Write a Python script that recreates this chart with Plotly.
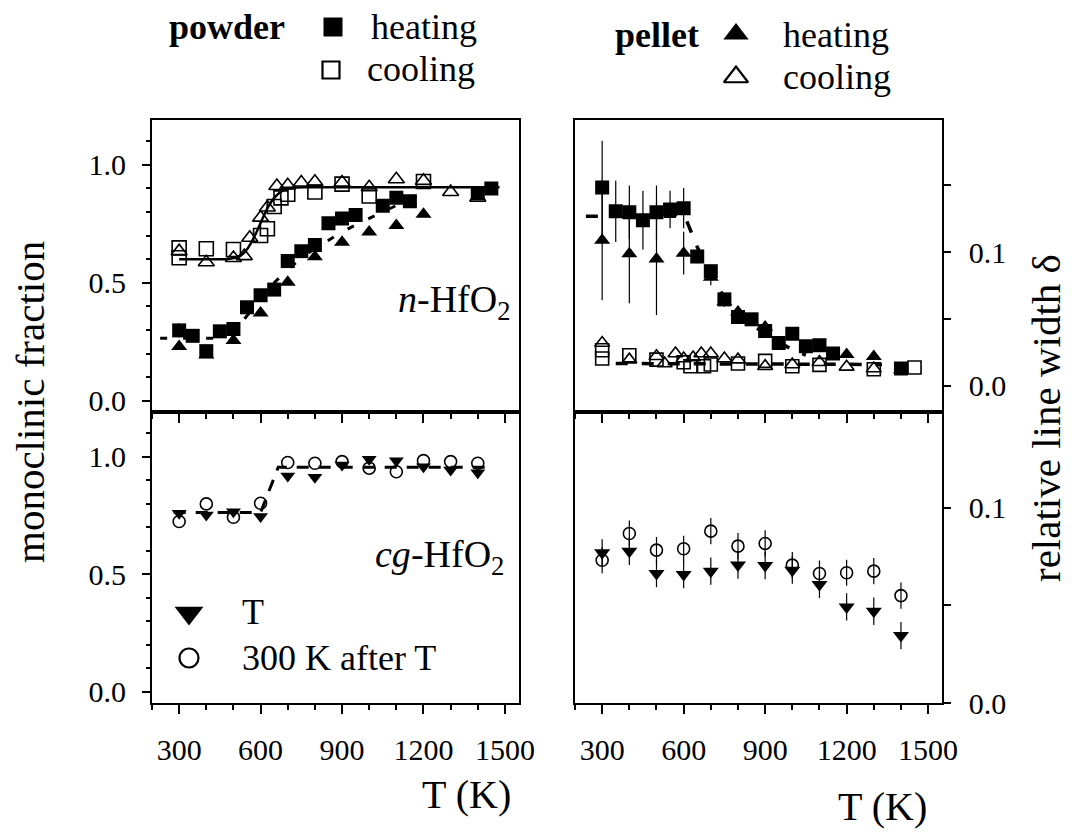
import plotly.graph_objects as go

W, H = 1081, 832
FONT = "Liberation Serif"

# ---------------- top-left: n-HfO2, monoclinic fraction ----------------
tl_pw_heat_T = [300, 350, 400, 450, 500, 550, 600, 650, 700, 750, 800, 850, 900, 950, 1050, 1100, 1150, 1400, 1450]
tl_pw_heat_f = [0.298, 0.275, 0.21, 0.294, 0.304, 0.396, 0.447, 0.471, 0.592, 0.634, 0.66, 0.752, 0.772, 0.787, 0.826, 0.86, 0.846, 0.88, 0.90]
tl_pw_heat_e = [0.03, 0.02, 0.025, 0.02, 0.03, 0.02, 0.02, 0.015, 0.015, 0.015, 0.02, 0.015, 0.015, 0.015, 0.015, 0.015, 0.015, 0.015, 0.015]

tl_pl_heat_T = [300, 400, 500, 600, 700, 800, 900, 1000, 1100, 1200]
tl_pl_heat_f = [0.23, 0.194, 0.255, 0.372, 0.502, 0.61, 0.672, 0.715, 0.743, 0.79]

tl_pw_cool_T = [300, 300, 400, 500, 600, 625, 650, 675, 700, 800, 900, 1000, 1200]
tl_pw_cool_f = [0.648, 0.606, 0.644, 0.641, 0.70, 0.729, 0.823, 0.86, 0.875, 0.885, 0.918, 0.868, 0.929]

tl_pl_cool_T = [300, 400, 500, 540, 560, 600, 625, 660, 700, 750, 800, 900, 1000, 1100, 1200, 1300, 1400]
tl_pl_cool_f = [0.634, 0.587, 0.605, 0.613, 0.691, 0.776, 0.819, 0.91, 0.913, 0.925, 0.928, 0.925, 0.905, 0.939, 0.932, 0.885, 0.861]

tl_fit_cool_T = [300, 480, 510, 530, 550, 570, 590, 610, 630, 650, 670, 690, 720, 760, 1480]
tl_fit_cool_f = [0.600, 0.601, 0.607, 0.618, 0.642, 0.68, 0.727, 0.78, 0.826, 0.86, 0.882, 0.895, 0.903, 0.905, 0.905]

tl_fit_heat_T = [230, 450, 500, 550, 600, 650, 700, 750, 800, 850, 900, 950, 1000, 1050, 1100, 1150, 1200]
tl_fit_heat_f = [0.265, 0.265, 0.29, 0.36, 0.43, 0.50, 0.555, 0.605, 0.645, 0.68, 0.715, 0.745, 0.772, 0.80, 0.826, 0.855, 0.89]

# ---------------- top-right: relative line width ----------------
tr_pw_heat_T = [300, 350, 400, 450, 500, 550, 600, 650, 700, 750, 800, 850, 900, 950, 1000, 1050, 1100, 1150, 1400]
tr_pw_heat_d = [0.1485, 0.1306, 0.130, 0.124, 0.130, 0.132, 0.133, 0.0968, 0.0858, 0.0647, 0.0515, 0.0498, 0.041, 0.032, 0.039, 0.0296, 0.0304, 0.0242, 0.013]
tr_pw_heat_e = [0.035, 0.023, 0.02, 0.022, 0.02, 0.014, 0.015, 0.005, 0.005, 0.003, 0.003, 0.003, 0.003, 0.003, 0.003, 0.003, 0.003, 0.003, 0.003]

tr_pl_heat_T = [300, 400, 500, 600, 700, 750, 800, 900, 1200, 1300, 1400]
tr_pl_heat_d = [0.109, 0.0988, 0.095, 0.0993, 0.0813, 0.063, 0.0552, 0.044, 0.0234, 0.022, 0.012]
tr_pl_heat_e = [0.045, 0.037, 0.042, 0.016, 0.006, 0.004, 0.003, 0.003, 0.002, 0.002, 0.003]

tr_pw_cool_T = [300, 300, 400, 500, 600, 625, 675, 700, 800, 900, 1000, 1100, 1300, 1450]
tr_pw_cool_d = [0.0266, 0.0204, 0.0229, 0.0196, 0.0177, 0.0147, 0.0147, 0.016, 0.0167, 0.0187, 0.0147, 0.0157, 0.0124, 0.0137]

tr_pl_cool_T = [300, 400, 500, 530, 570, 600, 635, 665, 700, 750, 800, 900, 1000, 1100, 1200, 1300]
tr_pl_cool_d = [0.032, 0.0196, 0.0221, 0.0167, 0.0242, 0.0204, 0.0212, 0.0242, 0.0242, 0.0204, 0.0196, 0.0147, 0.016, 0.0177, 0.0142, 0.013]

tr_fit_heat_T = [240, 600, 610, 650, 700, 750, 800, 850, 900, 950, 1000, 1050]
tr_fit_heat_d = [0.127, 0.127, 0.124, 0.104, 0.083, 0.066, 0.054, 0.046, 0.039, 0.033, 0.027, 0.023]
tr_fit_cool_T = [350, 1330]
tr_fit_cool_d = [0.0167, 0.0160]

# ---------------- bottom-left: cg-HfO2, monoclinic fraction ----------------
cg_T = [300, 400, 500, 600, 700, 800, 900, 1000, 1100, 1200, 1300, 1400]
cg_at_T = [0.759, 0.752, 0.766, 0.745, 0.918, 0.912, 0.965, 0.989, 0.983, 0.957, 0.943, 0.932]
cg_after = [0.724, 0.799, 0.742, 0.802, 0.975, 0.972, 0.979, 0.951, 0.936, 0.983, 0.979, 0.972]
cg_fit_T = [280, 600, 665, 1440]
cg_fit_f = [0.762, 0.762, 0.955, 0.955]

# ---------------- bottom-right: cg-HfO2, relative line width ----------------
br_at_T = [0.0769, 0.0777, 0.0663, 0.0658, 0.0675, 0.0706, 0.0704, 0.068, 0.0607, 0.0492, 0.047, 0.0345]
br_after = [0.0731, 0.0868, 0.0783, 0.079, 0.088, 0.0803, 0.0817, 0.0706, 0.0663, 0.0667, 0.0675, 0.055]
br_at_e = [0.007] * 12
br_after_e = [0.0067] * 12

# tick labels
x_ticks = [300, 600, 900, 1200, 1500]
frac_ticks = [0.0, 0.5, 1.0]
frac_ticktext = ["0.0", "0.5", "1.0"]
dw_ticks = [0.0, 0.10]
dw_ticktext = ["0.0", "0.1"]

# ---------------- figure ----------------
fig = go.Figure()

def px(x):
    return x / W

def py(y):
    return 1 - y / H

def err(arr):
    return dict(type="data", array=arr, visible=True, color="black", thickness=1.2, width=0)

def filled(sym, size):
    return dict(symbol=sym, size=size, color="black", opacity=1, line=dict(width=0))

def hollow(sym, size, lw=1.6):
    return dict(symbol=sym + "-open", size=size, color="black", opacity=1, line=dict(width=lw, color="black"))

def sc(x, y, ax, marker=None, line=None, error=None, mode="markers"):
    kw = dict(x=x, y=y, mode=mode, xaxis="x" + ax, yaxis="y" + ax, showlegend=False,
              hoverinfo="skip", opacity=1)
    if marker:
        kw["marker"] = marker
    if line:
        kw["line"] = line
    if error:
        kw["error_y"] = error
    fig.add_trace(go.Scatter(**kw))

# top-left
sc(tl_pw_cool_T, tl_pw_cool_f, "", hollow("square", 14))
sc(tl_pl_cool_T, tl_pl_cool_f, "", hollow("triangle-up", 14))
sc(tl_pw_heat_T, tl_pw_heat_f, "", filled("square", 14), error=err(tl_pw_heat_e))
sc(tl_pl_heat_T, tl_pl_heat_f, "", filled("triangle-up", 14))
sc(tl_fit_cool_T, tl_fit_cool_f, "", mode="lines", line=dict(color="black", width=2.5, shape="spline", smoothing=0.6))
sc(tl_fit_heat_T, tl_fit_heat_f, "", mode="lines", line=dict(color="black", width=3, dash="7px,16px"))

# top-right
sc(tr_pw_cool_T, tr_pw_cool_d, "2", hollow("square", 13))
sc(tr_pl_cool_T, tr_pl_cool_d, "2", hollow("triangle-up", 13))
sc(tr_pl_heat_T, tr_pl_heat_d, "2", filled("triangle-up", 14), error=err(tr_pl_heat_e))
sc(tr_pw_heat_T, tr_pw_heat_d, "2", filled("square", 14), error=err(tr_pw_heat_e))
sc(tr_fit_heat_T, tr_fit_heat_d, "2", mode="lines", line=dict(color="black", width=3.5, dash="12px,14px"))
sc(tr_fit_cool_T, tr_fit_cool_d, "2", mode="lines", line=dict(color="black", width=3.5, dash="12px,14px"))

# bottom-left
sc(cg_T, cg_after, "3", hollow("circle", 12))
sc(cg_T, cg_at_T, "3", filled("triangle-down", 13))
sc(cg_fit_T, cg_fit_f, "3", mode="lines", line=dict(color="black", width=3, dash="12px,10px"))

# bottom-right
sc(cg_T, br_after, "4", hollow("circle", 12), error=err(br_after_e))
sc(cg_T, br_at_T, "4", filled("triangle-down", 14), error=err(br_at_e))

# legend markers (pixel overlay), filled and open separately
leg_fill_px = [333, 736, 189]
leg_fill_py = [27, 34, 613]
leg_fill_sym = ["square", "triangle-up", "triangle-down"]
leg_fill_size = [19, 22, 25]
leg_open_px = [331, 736, 189]
leg_open_py = [70, 77, 658]
leg_open_sym = ["square-open", "triangle-up-open", "circle-open"]
leg_open_size = [17, 21, 19]
fig.add_trace(go.Scatter(x=leg_fill_px, y=leg_fill_py, mode="markers", xaxis="x5", yaxis="y5",
                         showlegend=False, hoverinfo="skip", cliponaxis=False, opacity=1,
                         marker=dict(symbol=leg_fill_sym, size=leg_fill_size, color="black",
                                     opacity=1, line=dict(width=0))))
fig.add_trace(go.Scatter(x=leg_open_px, y=leg_open_py, mode="markers", xaxis="x5", yaxis="y5",
                         showlegend=False, hoverinfo="skip", cliponaxis=False, opacity=1,
                         marker=dict(symbol=leg_open_sym, size=leg_open_size, color="black",
                                     opacity=1, line=dict(width=2.2, color="black"))))

tickfont = dict(family=FONT, size=30, color="black")
LX = [px(152), px(518.5)]
RX = [px(575), px(941.7)]
TY = [py(412), py(120)]
BY = [py(703), py(412)]

def xax(domain, anchor, labels):
    return dict(domain=domain, anchor=anchor, range=[200, 1550], showline=True, linewidth=2,
                linecolor="black", mirror=True, ticks="outside", ticklen=9, tickwidth=2,
                tickcolor="black", tickvals=x_ticks, showticklabels=labels,
                minor=dict(tick0=200, dtick=100, ticks="outside", ticklen=5, tickwidth=1.5, tickcolor="black"),
                showgrid=False, zeroline=False, tickfont=tickfont, ticklabelstandoff=10, automargin=False)

def yleft(domain, anchor):
    return dict(domain=domain, anchor=anchor, range=[-0.048, 1.19], showline=True, linewidth=2,
                linecolor="black", mirror=True, ticks="outside", ticklen=8, tickwidth=2,
                tickcolor="black", tickvals=frac_ticks, ticktext=frac_ticktext,
                minor=dict(tick0=0, dtick=0.1, ticks="outside", ticklen=4, tickwidth=1.5, tickcolor="black"),
                showgrid=False, zeroline=False, tickfont=tickfont, ticklabelstandoff=10, automargin=False)

def yright(domain, anchor, rng):
    return dict(domain=domain, anchor=anchor, range=rng, side="right", showline=True, linewidth=2,
                linecolor="black", mirror=True, ticks="outside", ticklen=7, tickwidth=2,
                tickcolor="black", tickvals=dw_ticks, ticktext=dw_ticktext,
                minor=dict(tick0=0, dtick=0.05, ticks="outside", ticklen=7, tickwidth=2, tickcolor="black"),
                showgrid=False, zeroline=False, tickfont=tickfont, ticklabelstandoff=12, automargin=False)

ann = []
def text(t, x, y, size, xanchor="center", yanchor="middle", angle=0):
    ann.append(dict(text=t, x=px(x), y=py(y), xref="paper", yref="paper", showarrow=False,
                    xanchor=xanchor, yanchor=yanchor, textangle=angle,
                    font=dict(family=FONT, size=size, color="black")))

text("<b>powder</b>", 167, 27, 36, xanchor="left")
text("heating", 369, 27, 36, xanchor="left")
text("cooling", 365, 69, 36, xanchor="left")
text("<b>pellet</b>", 613, 35, 36, xanchor="left")
text("heating", 781, 35, 36, xanchor="left")
text("cooling", 781, 77, 36, xanchor="left")
text("<i>n</i>-HfO<sub>2</sub>", 513, 302, 38, xanchor="right")
text("<i>cg</i>-HfO<sub>2</sub>", 506, 557, 38, xanchor="right")
text("T", 240, 612, 36, xanchor="left")
text("300 K after T", 240, 658, 36, xanchor="left")
text("monoclinic fraction", 30, 402, 41, angle=-90)
text("relative line width \u03b4", 1046, 418, 41, angle=-90)
text("T (K)", 466, 794, 40)
text("T (K)", 882, 806, 40)

fig.update_layout(
    width=W, height=H,
    margin=dict(l=0, r=0, t=0, b=0),
    paper_bgcolor="white", plot_bgcolor="rgba(0,0,0,0)",
    showlegend=False,
    xaxis=xax(LX, "y", False), yaxis=yleft(TY, "x"),
    xaxis2=xax(RX, "y2", False), yaxis2=yright(TY, "x2", [-0.0196, 0.199]),
    xaxis3=xax(LX, "y3", True), yaxis3=yleft(BY, "x3"),
    xaxis4=xax(RX, "y4", True), yaxis4=yright(BY, "x4", [0.0, 0.149]),
    xaxis5=dict(domain=[0, 1], range=[0, W], visible=False, anchor="y5", fixedrange=True),
    yaxis5=dict(domain=[0, 1], range=[H, 0], visible=False, anchor="x5", fixedrange=True),
    annotations=ann,
)

fig.write_html("out.html")
